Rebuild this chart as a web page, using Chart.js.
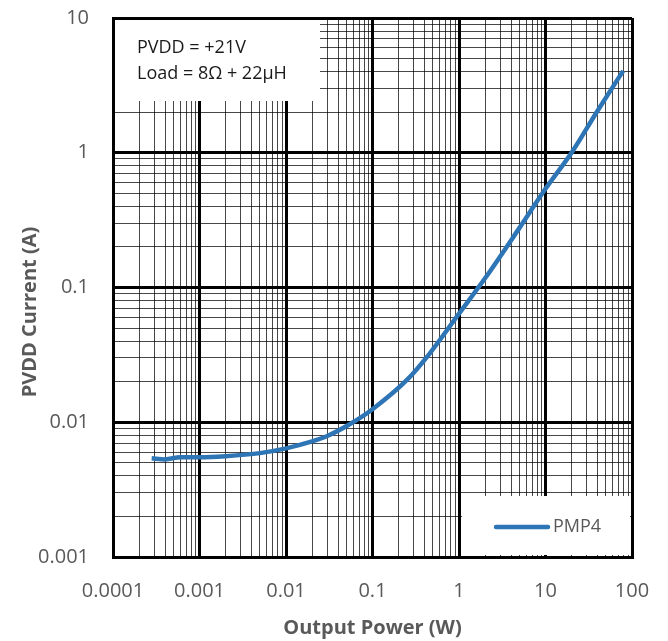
<!DOCTYPE html>
<html>
<head>
    <title>PVDD Current vs Output Power</title>
    <style>
        body { margin: 0; background: #fff; }
        #wrap { width: 668px; height: 641px; position: relative; }
    </style>
</head>
<body>
    <div id="wrap"><canvas id="currentChart"></canvas></div>

    <script src="https://cdn.jsdelivr.net/npm/chart.js"></script>
    <script>
        // values
        const powerW = [0.00028, 0.0004, 0.0006, 0.001, 0.002, 0.005, 0.01, 0.02, 0.03, 0.055, 0.1, 0.25, 0.46, 1, 2, 5, 10, 20, 40, 79];
        const currentA = [0.0054, 0.0053, 0.0055, 0.0055, 0.0056, 0.0059, 0.0064, 0.0072, 0.0079, 0.0097, 0.0125, 0.0206, 0.0325, 0.064, 0.117, 0.277, 0.54, 1.0, 2.05, 4.05];
        const seriesName = 'PMP4';

        const xDecades = [0.0001, 0.001, 0.01, 0.1, 1, 10, 100];
        const xTickLabels = ['0.0001', '0.001', '0.01', '0.1', '1', '10', '100'];
        const yDecades = [0.001, 0.01, 0.1, 1, 10];
        const yTickLabels = ['0.001', '0.01', '0.1', '1', '10'];
        const minorSteps = [1, 2, 3, 4, 5, 6, 7, 8, 9];

        const noteLines = ['PVDD = +21V', 'Load = 8\u03A9 + 22\u00B5H'];
        const yTitle = 'PVDD Current (A)';

        const FONT = "'Open Sans', 'DejaVu Sans', sans-serif";

        function logTicks(decades) {
            const out = [];
            decades.forEach((d, i) => {
                if (i === decades.length - 1) { out.push({ value: d }); return; }
                minorSteps.forEach(m => out.push({ value: Number((m * d).toPrecision(4)) }));
            });
            return out;
        }

        function isDecade(list, v) {
            return list.some(d => Math.abs(d - v) / d < 1e-6);
        }

        function labelFor(list, labels, v) {
            const i = list.findIndex(d => Math.abs(d - v) / d < 1e-6);
            return i >= 0 ? labels[i] : '';
        }

        // white boxes for the note and the legend, drawn over the grid
        const boxesPlugin = {
            id: 'boxes',
            beforeDatasetsDraw(chart) {
                const ctx = chart.ctx;
                const a = chart.chartArea;
                ctx.save();
                ctx.fillStyle = '#fff';
                ctx.fillRect(a.left + 2, a.top + 2, 320 - a.left - 2, 101 - a.top - 2);
                ctx.fillRect(462, 496, a.right - 2 - 462, a.bottom - 2 - 496);

                ctx.fillStyle = '#1a1a1a';
                ctx.font = '18px ' + FONT;
                ctx.textBaseline = 'alphabetic';
                ctx.textAlign = 'left';
                ctx.fillText(noteLines[0], 137, 53);
                ctx.fillText(noteLines[1], 137, 79);

                // y axis title, sits a bit below the middle like the original
                ctx.translate(30, 312);
                ctx.rotate(-Math.PI / 2);
                ctx.fillStyle = '#595959';
                ctx.font = 'bold 20px ' + FONT;
                ctx.textAlign = 'center';
                ctx.textBaseline = 'middle';
                ctx.fillText(yTitle, 0, 0);
                ctx.restore();
            },
            afterDatasetsDraw(chart) {
                const ctx = chart.ctx;
                const ds = chart.data.datasets[0];
                ctx.save();
                ctx.strokeStyle = ds.borderColor;
                ctx.lineWidth = 4.5;
                ctx.lineCap = 'round';
                ctx.beginPath();
                ctx.moveTo(496, 527);
                ctx.lineTo(548, 527);
                ctx.stroke();
                ctx.fillStyle = '#595959';
                ctx.font = '18px ' + FONT;
                ctx.textBaseline = 'middle';
                ctx.fillText(ds.label, 553, 527);
                ctx.restore();
            }
        };

        function gridWidth(list) {
            return c => (c.tick && isDecade(list, c.tick.value)) ? 3 : 1;
        }
        function gridColor(list) {
            return c => (c.tick && isDecade(list, c.tick.value)) ? '#000' : 'rgba(0,0,0,0.72)';
        }

        new Chart(document.getElementById('currentChart'), {
            type: 'line',
            data: {
                datasets: [{
                    label: seriesName,
                    data: powerW.map((p, i) => ({ x: p, y: currentA[i] })),
                    borderColor: '#2E75B6',
                    borderWidth: 4.5,
                    pointRadius: 0,
                    cubicInterpolationMode: 'monotone',
                    fill: false
                }]
            },
            options: {
                responsive: true,
                maintainAspectRatio: false,
                animation: false,
                layout: { padding: { top: 18, right: 36, left: 0, bottom: 0 } },
                plugins: { legend: { display: false }, tooltip: { enabled: false } },
                scales: {
                    x: {
                        type: 'logarithmic',
                        min: xDecades[0],
                        max: xDecades[xDecades.length - 1],
                        afterBuildTicks: s => { s.ticks = logTicks(xDecades); },
                        afterFit: s => { s.height = 84; s.paddingLeft = 0; s.paddingRight = 0; },
                        grid: { drawTicks: false, lineWidth: gridWidth(xDecades), color: gridColor(xDecades) },
                        border: { display: true, color: '#000', width: 3 },
                        ticks: {
                            autoSkip: false, maxRotation: 0, padding: 22,
                            color: '#595959', font: { family: FONT, size: 20 },
                            callback: v => labelFor(xDecades, xTickLabels, v)
                        },
                        title: {
                            display: true, text: 'Output Power (W)', color: '#595959',
                            font: { family: FONT, size: 20, weight: 'bold' },
                            padding: { top: 0, bottom: 1 }
                        }
                    },
                    y: {
                        type: 'logarithmic',
                        min: yDecades[0],
                        max: yDecades[yDecades.length - 1],
                        afterBuildTicks: s => { s.ticks = logTicks(yDecades); },
                        afterFit: s => { s.width = 113; s.paddingTop = 0; s.paddingBottom = 0; },
                        grid: { drawTicks: false, lineWidth: gridWidth(yDecades), color: gridColor(yDecades) },
                        border: { display: true, color: '#000', width: 3 },
                        ticks: {
                            autoSkip: false, padding: 24,
                            color: '#595959', font: { family: FONT, size: 20 },
                            callback: v => labelFor(yDecades, yTickLabels, v)
                        }
                    }
                }
            },
            plugins: [boxesPlugin]
        });
    </script>
</body>
</html>
